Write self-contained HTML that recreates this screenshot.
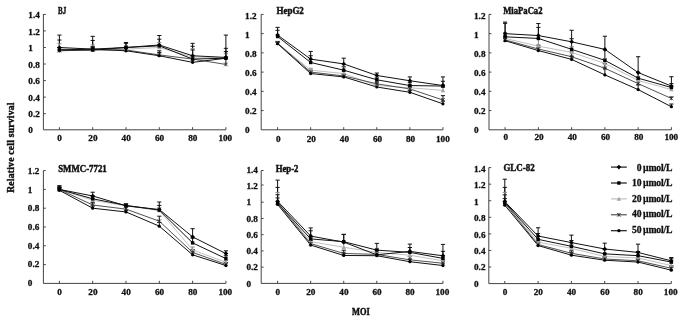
<!DOCTYPE html>
<html lang="en"><head><meta charset="utf-8"><title>Relative cell survival vs MOI</title>
<style>html,body{margin:0;padding:0;background:#fff}body{width:685px;height:321px;overflow:hidden}svg{display:block;will-change:transform}</style>
</head><body>
<svg width="685" height="321" viewBox="0 0 685 321" font-family='"Liberation Serif", serif' font-weight="bold" fill="#111" stroke="#111" stroke-width="0.3">
<rect width="685" height="321" fill="#fff" stroke="none"/>
<g><path d="M43.4 14L43.4 129.8L225.9 129.8M43.4 113.66L45.8 113.66M43.4 97.11L45.8 97.11M43.4 80.57L45.8 80.57M43.4 64.03L45.8 64.03M43.4 47.49L45.8 47.49M43.4 30.94L45.8 30.94M43.4 14.4L45.8 14.4M59.4 129.8L59.4 127.2M92.7 129.8L92.7 127.2M126 129.8L126 127.2M159.3 129.8L159.3 127.2M192.6 129.8L192.6 127.2M225.9 129.8L225.9 127.2" stroke="#444" stroke-width="1" fill="none"/><text x="28.3" y="133.3" font-size="9.2">0</text><text x="28.3" y="117.21" font-size="9.2">0.2</text><text x="28.3" y="100.73" font-size="9.2">0.4</text><text x="28.3" y="84.24" font-size="9.2">0.6</text><text x="28.3" y="67.76" font-size="9.2">0.8</text><text x="28.3" y="51.27" font-size="9.2">1</text><text x="28.3" y="34.79" font-size="9.2">1.2</text><text x="28.3" y="18.3" font-size="9.2">1.4</text><text x="59.6" y="141.4" font-size="9.2" text-anchor="middle">0</text><text x="92.9" y="141.4" font-size="9.2" text-anchor="middle">20</text><text x="126.2" y="141.4" font-size="9.2" text-anchor="middle">40</text><text x="159.5" y="141.4" font-size="9.2" text-anchor="middle">60</text><text x="192.8" y="141.4" font-size="9.2" text-anchor="middle">80</text><text x="225.3" y="141.4" font-size="9.2" text-anchor="middle">100</text><text x="58" y="14" font-size="9.6" stroke-width="0.45" textLength="8.2" lengthAdjust="spacingAndGlyphs">BJ</text><path d="M59.4 47.49L59.4 35.08M57.3 35.08L61.5 35.08M92.7 49.14L92.7 36.32M90.6 36.32L94.8 36.32M126 47.49L126 42.52M123.9 42.52L128.1 42.52M159.3 45L159.3 35.49M157.2 35.49L161.4 35.49M192.6 55.76L192.6 43.35M190.5 43.35L194.7 43.35M225.9 57.41L225.9 35.08M223.8 35.08L228 35.08" stroke="#111" stroke-width="1" fill="none"/><path d="M59.4 49.97L59.4 40.04M57.3 40.04L61.5 40.04M92.7 49.97L92.7 40.46M90.6 40.46L94.8 40.46M126 47.49L126 43.35M123.9 43.35L128.1 43.35M159.3 45.83L159.3 39.21M157.2 39.21L161.4 39.21M192.6 59.07L192.6 46.25M190.5 46.25L194.7 46.25M225.9 58.24L225.9 48.31M223.8 48.31L228 48.31" stroke="#111" stroke-width="1" fill="none"/><path d="M59.4 49.14L59.4 43.76M57.3 43.76L61.5 43.76M92.7 49.14L92.7 45M90.6 45L94.8 45M126 49.14L126 45.83M123.9 45.83L128.1 45.83M159.3 47.49L159.3 42.52M157.2 42.52L161.4 42.52M192.6 57L192.6 48.73M190.5 48.73L194.7 48.73M225.9 57.83L225.9 53.69M223.8 53.69L228 53.69" stroke="#888" stroke-width="1" fill="none"/><path d="M59.4 50.79L59.4 47.49M57.3 47.49L61.5 47.49M92.7 49.97L92.7 47.49M90.6 47.49L94.8 47.49M126 49.97L126 47.49M123.9 47.49L128.1 47.49M159.3 54.93L159.3 50.79M157.2 50.79L161.4 50.79M192.6 59.07L192.6 49.97M190.5 49.97L194.7 49.97M225.9 64.44L225.9 57M223.8 57L228 57" stroke="#111" stroke-width="1" fill="none"/><path d="M59.4 49.97L59.4 47.49M57.3 47.49L61.5 47.49M92.7 49.14L92.7 46.66M90.6 46.66L94.8 46.66M126 50.79L126 48.31M123.9 48.31L128.1 48.31M159.3 55.76L159.3 52.45M157.2 52.45L161.4 52.45M192.6 62.37L192.6 55.76M190.5 55.76L194.7 55.76M225.9 58.24L225.9 51.62M223.8 51.62L228 51.62" stroke="#111" stroke-width="1" fill="none"/><polyline points="59.4,49.14 92.7,49.14 126,49.14 159.3,47.49 192.6,57 225.9,57.83" stroke="#b0b0b0" stroke-width="0.8" fill="none" stroke-linejoin="round"/><polyline points="59.4,50.79 92.7,49.97 126,49.97 159.3,54.93 192.6,59.07 225.9,64.44" stroke="#333" stroke-width="0.85" fill="none" stroke-linejoin="round"/><polyline points="59.4,49.97 92.7,49.14 126,50.79 159.3,55.76 192.6,62.37 225.9,58.24" stroke="#111" stroke-width="1.0" fill="none" stroke-linejoin="round"/><polyline points="59.4,49.97 92.7,49.97 126,47.49 159.3,45.83 192.6,59.07 225.9,58.24" stroke="#111" stroke-width="1.0" fill="none" stroke-linejoin="round"/><polyline points="59.4,47.49 92.7,49.14 126,47.49 159.3,45 192.6,55.76 225.9,57.41" stroke="#111" stroke-width="1.0" fill="none" stroke-linejoin="round"/><path d="M59.4 46.94L61.6 50.9L57.2 50.9Z" fill="#a4a4a4" stroke="none"/><path d="M92.7 46.94L94.9 50.9L90.5 50.9Z" fill="#a4a4a4" stroke="none"/><path d="M126 46.94L128.2 50.9L123.8 50.9Z" fill="#a4a4a4" stroke="none"/><path d="M159.3 45.29L161.5 49.25L157.1 49.25Z" fill="#a4a4a4" stroke="none"/><path d="M192.6 54.8L194.8 58.76L190.4 58.76Z" fill="#a4a4a4" stroke="none"/><path d="M225.9 55.63L228.1 59.59L223.7 59.59Z" fill="#a4a4a4" stroke="none"/><path d="M57.6 48.99L61.2 52.59M57.6 52.59L61.2 48.99M59.4 48.99L59.4 52.59" stroke="#2a2a2a" stroke-width="0.8" fill="none"/><path d="M90.9 48.17L94.5 51.77M90.9 51.77L94.5 48.17M92.7 48.17L92.7 51.77" stroke="#2a2a2a" stroke-width="0.8" fill="none"/><path d="M124.2 48.17L127.8 51.77M124.2 51.77L127.8 48.17M126 48.17L126 51.77" stroke="#2a2a2a" stroke-width="0.8" fill="none"/><path d="M157.5 53.13L161.1 56.73M157.5 56.73L161.1 53.13M159.3 53.13L159.3 56.73" stroke="#2a2a2a" stroke-width="0.8" fill="none"/><path d="M190.8 57.27L194.4 60.87M190.8 60.87L194.4 57.27M192.6 57.27L192.6 60.87" stroke="#2a2a2a" stroke-width="0.8" fill="none"/><path d="M224.1 62.64L227.7 66.24M224.1 66.24L227.7 62.64M225.9 62.64L225.9 66.24" stroke="#2a2a2a" stroke-width="0.8" fill="none"/><circle cx="59.4" cy="49.97" r="1.6" fill="#000" stroke="none"/><circle cx="92.7" cy="49.14" r="1.6" fill="#000" stroke="none"/><circle cx="126" cy="50.79" r="1.6" fill="#000" stroke="none"/><circle cx="159.3" cy="55.76" r="1.6" fill="#000" stroke="none"/><circle cx="192.6" cy="62.37" r="1.6" fill="#000" stroke="none"/><circle cx="225.9" cy="58.24" r="1.6" fill="#000" stroke="none"/><rect x="57.7" y="48.27" width="3.4" height="3.4" fill="#000" stroke="none"/><rect x="91" y="48.27" width="3.4" height="3.4" fill="#000" stroke="none"/><rect x="124.3" y="45.79" width="3.4" height="3.4" fill="#000" stroke="none"/><rect x="157.6" y="44.13" width="3.4" height="3.4" fill="#000" stroke="none"/><rect x="190.9" y="57.37" width="3.4" height="3.4" fill="#000" stroke="none"/><rect x="224.2" y="56.54" width="3.4" height="3.4" fill="#000" stroke="none"/><path d="M59.4 45.19L61.7 47.49L59.4 49.79L57.1 47.49Z" fill="#000" stroke="none"/><path d="M92.7 46.84L95 49.14L92.7 51.44L90.4 49.14Z" fill="#000" stroke="none"/><path d="M126 45.19L128.3 47.49L126 49.79L123.7 47.49Z" fill="#000" stroke="none"/><path d="M159.3 42.7L161.6 45L159.3 47.3L157 45Z" fill="#000" stroke="none"/><path d="M192.6 53.46L194.9 55.76L192.6 58.06L190.3 55.76Z" fill="#000" stroke="none"/><path d="M225.9 55.11L228.2 57.41L225.9 59.71L223.6 57.41Z" fill="#000" stroke="none"/></g>
<g><path d="M261.2 14.4L261.2 129.8L442.95 129.8M261.2 110.57L263.6 110.57M261.2 91.33L263.6 91.33M261.2 72.1L263.6 72.1M261.2 52.87L263.6 52.87M261.2 33.63L263.6 33.63M261.2 14.4L263.6 14.4M277.6 129.8L277.6 127.2M310.67 129.8L310.67 127.2M343.74 129.8L343.74 127.2M376.81 129.8L376.81 127.2M409.88 129.8L409.88 127.2M442.95 129.8L442.95 127.2" stroke="#444" stroke-width="1" fill="none"/><text x="245.1" y="133.3" font-size="9.2">0</text><text x="245.1" y="114.23" font-size="9.2">0.2</text><text x="245.1" y="95.17" font-size="9.2">0.4</text><text x="245.1" y="76.1" font-size="9.2">0.6</text><text x="245.1" y="57.03" font-size="9.2">0.8</text><text x="245.1" y="37.97" font-size="9.2">1</text><text x="245.1" y="18.9" font-size="9.2">1.2</text><text x="278.3" y="141.7" font-size="9.2" text-anchor="middle">0</text><text x="311.37" y="141.7" font-size="9.2" text-anchor="middle">20</text><text x="344.44" y="141.7" font-size="9.2" text-anchor="middle">40</text><text x="377.51" y="141.7" font-size="9.2" text-anchor="middle">60</text><text x="410.58" y="141.7" font-size="9.2" text-anchor="middle">80</text><text x="442.85" y="141.7" font-size="9.2" text-anchor="middle">100</text><text x="276.5" y="14" font-size="9.6" stroke-width="0.45" textLength="27.3" lengthAdjust="spacingAndGlyphs">HepG2</text><path d="M277.6 35.08L277.6 27.38M275.5 27.38L279.7 27.38M310.67 59.12L310.67 51.42M308.57 51.42L312.77 51.42M343.74 63.93L343.74 58.16M341.64 58.16L345.84 58.16M376.81 75.47L376.81 73.06M374.71 73.06L378.91 73.06M409.88 80.76L409.88 76.91M407.78 76.91L411.98 76.91M442.95 85.56L442.95 76.91M440.85 76.91L445.05 76.91" stroke="#111" stroke-width="1" fill="none"/><path d="M277.6 36.52L277.6 30.27M275.5 30.27L279.7 30.27M310.67 62.48L310.67 55.75M308.57 55.75L312.77 55.75M343.74 70.18L343.74 66.81M341.64 66.81L345.84 66.81M376.81 79.79L376.81 77.87M374.71 77.87L378.91 77.87M409.88 85.56L409.88 82.68M407.78 82.68L411.98 82.68M442.95 86.04L442.95 81.24M440.85 81.24L445.05 81.24" stroke="#111" stroke-width="1" fill="none"/><path d="M277.6 43.25L277.6 41.33M275.5 41.33L279.7 41.33M310.67 70.18L310.67 68.25M308.57 68.25L312.77 68.25M343.74 73.54L343.74 71.62M341.64 71.62L345.84 71.62M376.81 85.56L376.81 83.64M374.71 83.64L378.91 83.64M409.88 87.78L409.88 85.85M407.78 85.85L411.98 85.85M442.95 90.37L442.95 87.49M440.85 87.49L445.05 87.49" stroke="#888" stroke-width="1" fill="none"/><path d="M277.6 43.25L277.6 41.81M275.5 41.81L279.7 41.81M310.67 72.1L310.67 70.18M308.57 70.18L312.77 70.18M343.74 75.95L343.74 74.02M341.64 74.02L345.84 74.02M376.81 83.83L376.81 81.91M374.71 81.91L378.91 81.91M409.88 88.93L409.88 87.01M407.78 87.01L411.98 87.01M442.95 99.99L442.95 95.66M440.85 95.66L445.05 95.66" stroke="#111" stroke-width="1" fill="none"/><path d="M277.6 43.73L277.6 42.29M275.5 42.29L279.7 42.29M310.67 73.54L310.67 71.62M308.57 71.62L312.77 71.62M343.74 76.91L343.74 74.98M341.64 74.98L345.84 74.98M376.81 87.01L376.81 85.08M374.71 85.08L378.91 85.08M409.88 92.3L409.88 90.37M407.78 90.37L411.98 90.37M442.95 103.84L442.95 100.95M440.85 100.95L445.05 100.95" stroke="#111" stroke-width="1" fill="none"/><polyline points="277.6,43.25 310.67,70.18 343.74,73.54 376.81,85.56 409.88,87.78 442.95,90.37" stroke="#b0b0b0" stroke-width="0.8" fill="none" stroke-linejoin="round"/><polyline points="277.6,43.25 310.67,72.1 343.74,75.95 376.81,83.83 409.88,88.93 442.95,99.99" stroke="#333" stroke-width="0.85" fill="none" stroke-linejoin="round"/><polyline points="277.6,43.73 310.67,73.54 343.74,76.91 376.81,87.01 409.88,92.3 442.95,103.84" stroke="#111" stroke-width="1.0" fill="none" stroke-linejoin="round"/><polyline points="277.6,36.52 310.67,62.48 343.74,70.18 376.81,79.79 409.88,85.56 442.95,86.04" stroke="#111" stroke-width="1.0" fill="none" stroke-linejoin="round"/><polyline points="277.6,35.08 310.67,59.12 343.74,63.93 376.81,75.47 409.88,80.76 442.95,85.56" stroke="#111" stroke-width="1.0" fill="none" stroke-linejoin="round"/><path d="M277.6 41.05L279.8 45.01L275.4 45.01Z" fill="#a4a4a4" stroke="none"/><path d="M310.67 67.98L312.87 71.94L308.47 71.94Z" fill="#a4a4a4" stroke="none"/><path d="M343.74 71.34L345.94 75.3L341.54 75.3Z" fill="#a4a4a4" stroke="none"/><path d="M376.81 83.36L379.01 87.32L374.61 87.32Z" fill="#a4a4a4" stroke="none"/><path d="M409.88 85.58L412.08 89.54L407.68 89.54Z" fill="#a4a4a4" stroke="none"/><path d="M442.95 88.17L445.15 92.13L440.75 92.13Z" fill="#a4a4a4" stroke="none"/><path d="M275.8 41.45L279.4 45.05M275.8 45.05L279.4 41.45M277.6 41.45L277.6 45.05" stroke="#2a2a2a" stroke-width="0.8" fill="none"/><path d="M308.87 70.3L312.47 73.9M308.87 73.9L312.47 70.3M310.67 70.3L310.67 73.9" stroke="#2a2a2a" stroke-width="0.8" fill="none"/><path d="M341.94 74.15L345.54 77.75M341.94 77.75L345.54 74.15M343.74 74.15L343.74 77.75" stroke="#2a2a2a" stroke-width="0.8" fill="none"/><path d="M375.01 82.03L378.61 85.63M375.01 85.63L378.61 82.03M376.81 82.03L376.81 85.63" stroke="#2a2a2a" stroke-width="0.8" fill="none"/><path d="M408.08 87.13L411.68 90.73M408.08 90.73L411.68 87.13M409.88 87.13L409.88 90.73" stroke="#2a2a2a" stroke-width="0.8" fill="none"/><path d="M441.15 98.19L444.75 101.79M441.15 101.79L444.75 98.19M442.95 98.19L442.95 101.79" stroke="#2a2a2a" stroke-width="0.8" fill="none"/><circle cx="277.6" cy="43.73" r="1.6" fill="#000" stroke="none"/><circle cx="310.67" cy="73.54" r="1.6" fill="#000" stroke="none"/><circle cx="343.74" cy="76.91" r="1.6" fill="#000" stroke="none"/><circle cx="376.81" cy="87.01" r="1.6" fill="#000" stroke="none"/><circle cx="409.88" cy="92.3" r="1.6" fill="#000" stroke="none"/><circle cx="442.95" cy="103.84" r="1.6" fill="#000" stroke="none"/><rect x="275.9" y="34.82" width="3.4" height="3.4" fill="#000" stroke="none"/><rect x="308.97" y="60.78" width="3.4" height="3.4" fill="#000" stroke="none"/><rect x="342.04" y="68.48" width="3.4" height="3.4" fill="#000" stroke="none"/><rect x="375.11" y="78.09" width="3.4" height="3.4" fill="#000" stroke="none"/><rect x="408.18" y="83.86" width="3.4" height="3.4" fill="#000" stroke="none"/><rect x="441.25" y="84.34" width="3.4" height="3.4" fill="#000" stroke="none"/><path d="M277.6 32.78L279.9 35.08L277.6 37.38L275.3 35.08Z" fill="#000" stroke="none"/><path d="M310.67 56.82L312.97 59.12L310.67 61.42L308.37 59.12Z" fill="#000" stroke="none"/><path d="M343.74 61.63L346.04 63.93L343.74 66.23L341.44 63.93Z" fill="#000" stroke="none"/><path d="M376.81 73.17L379.11 75.47L376.81 77.77L374.51 75.47Z" fill="#000" stroke="none"/><path d="M409.88 78.46L412.18 80.76L409.88 83.06L407.58 80.76Z" fill="#000" stroke="none"/><path d="M442.95 83.26L445.25 85.56L442.95 87.86L440.65 85.56Z" fill="#000" stroke="none"/></g>
<g><path d="M489 14.4L489 129.8L671.4 129.8M489 110.57L491.4 110.57M489 91.33L491.4 91.33M489 72.1L491.4 72.1M489 52.87L491.4 52.87M489 33.63L491.4 33.63M489 14.4L491.4 14.4M505.1 129.8L505.1 127.2M538.36 129.8L538.36 127.2M571.62 129.8L571.62 127.2M604.88 129.8L604.88 127.2M638.14 129.8L638.14 127.2M671.4 129.8L671.4 127.2" stroke="#444" stroke-width="1" fill="none"/><text x="474" y="132.9" font-size="9.2">0</text><text x="474" y="113.83" font-size="9.2">0.2</text><text x="474" y="94.77" font-size="9.2">0.4</text><text x="474" y="75.7" font-size="9.2">0.6</text><text x="474" y="56.63" font-size="9.2">0.8</text><text x="474" y="37.57" font-size="9.2">1</text><text x="474" y="18.5" font-size="9.2">1.2</text><text x="505.8" y="139.8" font-size="9.2" text-anchor="middle">0</text><text x="539.06" y="139.8" font-size="9.2" text-anchor="middle">20</text><text x="572.32" y="139.8" font-size="9.2" text-anchor="middle">40</text><text x="605.58" y="139.8" font-size="9.2" text-anchor="middle">60</text><text x="638.84" y="139.8" font-size="9.2" text-anchor="middle">80</text><text x="671.3" y="139.8" font-size="9.2" text-anchor="middle">100</text><text x="503.2" y="14" font-size="9.6" stroke-width="0.45" textLength="39.3" lengthAdjust="spacingAndGlyphs">MiaPaCa2</text><path d="M505.1 33.63L505.1 22.09M503 22.09L507.2 22.09M538.36 35.56L538.36 23.54M536.26 23.54L540.46 23.54M571.62 41.81L571.62 30.27M569.52 30.27L573.72 30.27M604.88 49.4L604.88 36.23M602.78 36.23L606.98 36.23M638.14 72.58L638.14 56.71M636.04 56.71L640.24 56.71M671.4 86.04L671.4 76.72M669.3 76.72L673.5 76.72" stroke="#111" stroke-width="1" fill="none"/><path d="M505.1 36.81L505.1 23.34M503 23.34L507.2 23.34M538.36 38.44L538.36 27.38M536.26 27.38L540.46 27.38M571.62 49.31L571.62 38.73M569.52 38.73L573.72 38.73M604.88 60.37L604.88 49.79M602.78 49.79L606.98 49.79M638.14 78.16L638.14 72.39M636.04 72.39L640.24 72.39M671.4 87.49L671.4 83.64M669.3 83.64L673.5 83.64" stroke="#111" stroke-width="1" fill="none"/><path d="M505.1 38.44L505.1 32.67M503 32.67L507.2 32.67M538.36 46.14L538.36 38.44M536.26 38.44L540.46 38.44M571.62 52.39L571.62 46.62M569.52 46.62L573.72 46.62M604.88 63.45L604.88 58.64M602.78 58.64L606.98 58.64M638.14 80.47L638.14 76.62M636.04 76.62L640.24 76.62M671.4 89.6L671.4 86.72M669.3 86.72L673.5 86.72" stroke="#888" stroke-width="1" fill="none"/><path d="M505.1 39.88L505.1 36.04M503 36.04L507.2 36.04M538.36 49.02L538.36 45.17M536.26 45.17L540.46 45.17M571.62 56.71L571.62 51.91M569.52 51.91L573.72 51.91M604.88 68.25L604.88 63.45M602.78 63.45L606.98 63.45M638.14 83.64L638.14 79.79M636.04 79.79L640.24 79.79M671.4 98.45L671.4 97.01M669.3 97.01L673.5 97.01" stroke="#111" stroke-width="1" fill="none"/><path d="M505.1 40.75L505.1 37.86M503 37.86L507.2 37.86M538.36 50.56L538.36 47.67M536.26 47.67L540.46 47.67M571.62 59.41L571.62 56.52M569.52 56.52L573.72 56.52M604.88 74.89L604.88 68.16M602.78 68.16L606.98 68.16M638.14 89.6L638.14 84.79M636.04 84.79L640.24 84.79M671.4 106.72L671.4 104.03M669.3 104.03L673.5 104.03" stroke="#111" stroke-width="1" fill="none"/><polyline points="505.1,38.44 538.36,46.14 571.62,52.39 604.88,63.45 638.14,80.47 671.4,89.6" stroke="#b0b0b0" stroke-width="0.8" fill="none" stroke-linejoin="round"/><polyline points="505.1,39.88 538.36,49.02 571.62,56.71 604.88,68.25 638.14,83.64 671.4,98.45" stroke="#333" stroke-width="0.85" fill="none" stroke-linejoin="round"/><polyline points="505.1,40.75 538.36,50.56 571.62,59.41 604.88,74.89 638.14,89.6 671.4,106.72" stroke="#111" stroke-width="1.0" fill="none" stroke-linejoin="round"/><polyline points="505.1,36.81 538.36,38.44 571.62,49.31 604.88,60.37 638.14,78.16 671.4,87.49" stroke="#111" stroke-width="1.0" fill="none" stroke-linejoin="round"/><polyline points="505.1,33.63 538.36,35.56 571.62,41.81 604.88,49.4 638.14,72.58 671.4,86.04" stroke="#111" stroke-width="1.0" fill="none" stroke-linejoin="round"/><path d="M505.1 36.24L507.3 40.2L502.9 40.2Z" fill="#a4a4a4" stroke="none"/><path d="M538.36 43.94L540.56 47.9L536.16 47.9Z" fill="#a4a4a4" stroke="none"/><path d="M571.62 50.19L573.82 54.15L569.42 54.15Z" fill="#a4a4a4" stroke="none"/><path d="M604.88 61.25L607.08 65.21L602.68 65.21Z" fill="#a4a4a4" stroke="none"/><path d="M638.14 78.27L640.34 82.23L635.94 82.23Z" fill="#a4a4a4" stroke="none"/><path d="M671.4 87.4L673.6 91.36L669.2 91.36Z" fill="#a4a4a4" stroke="none"/><path d="M503.3 38.08L506.9 41.68M503.3 41.68L506.9 38.08M505.1 38.08L505.1 41.68" stroke="#2a2a2a" stroke-width="0.8" fill="none"/><path d="M536.56 47.22L540.16 50.82M536.56 50.82L540.16 47.22M538.36 47.22L538.36 50.82" stroke="#2a2a2a" stroke-width="0.8" fill="none"/><path d="M569.82 54.91L573.42 58.51M569.82 58.51L573.42 54.91M571.62 54.91L571.62 58.51" stroke="#2a2a2a" stroke-width="0.8" fill="none"/><path d="M603.08 66.45L606.68 70.05M603.08 70.05L606.68 66.45M604.88 66.45L604.88 70.05" stroke="#2a2a2a" stroke-width="0.8" fill="none"/><path d="M636.34 81.84L639.94 85.44M636.34 85.44L639.94 81.84M638.14 81.84L638.14 85.44" stroke="#2a2a2a" stroke-width="0.8" fill="none"/><path d="M669.6 96.65L673.2 100.25M669.6 100.25L673.2 96.65M671.4 96.65L671.4 100.25" stroke="#2a2a2a" stroke-width="0.8" fill="none"/><circle cx="505.1" cy="40.75" r="1.6" fill="#000" stroke="none"/><circle cx="538.36" cy="50.56" r="1.6" fill="#000" stroke="none"/><circle cx="571.62" cy="59.41" r="1.6" fill="#000" stroke="none"/><circle cx="604.88" cy="74.89" r="1.6" fill="#000" stroke="none"/><circle cx="638.14" cy="89.6" r="1.6" fill="#000" stroke="none"/><circle cx="671.4" cy="106.72" r="1.6" fill="#000" stroke="none"/><rect x="503.4" y="35.11" width="3.4" height="3.4" fill="#000" stroke="none"/><rect x="536.66" y="36.74" width="3.4" height="3.4" fill="#000" stroke="none"/><rect x="569.92" y="47.61" width="3.4" height="3.4" fill="#000" stroke="none"/><rect x="603.18" y="58.67" width="3.4" height="3.4" fill="#000" stroke="none"/><rect x="636.44" y="76.46" width="3.4" height="3.4" fill="#000" stroke="none"/><rect x="669.7" y="85.79" width="3.4" height="3.4" fill="#000" stroke="none"/><path d="M505.1 31.33L507.4 33.63L505.1 35.93L502.8 33.63Z" fill="#000" stroke="none"/><path d="M538.36 33.26L540.66 35.56L538.36 37.86L536.06 35.56Z" fill="#000" stroke="none"/><path d="M571.62 39.51L573.92 41.81L571.62 44.11L569.32 41.81Z" fill="#000" stroke="none"/><path d="M604.88 47.1L607.18 49.4L604.88 51.7L602.58 49.4Z" fill="#000" stroke="none"/><path d="M638.14 70.28L640.44 72.58L638.14 74.88L635.84 72.58Z" fill="#000" stroke="none"/><path d="M671.4 83.74L673.7 86.04L671.4 88.34L669.1 86.04Z" fill="#000" stroke="none"/></g>
<g><path d="M43.4 170.6L43.4 283.4L225.9 283.4M43.4 264.6L45.8 264.6M43.4 245.8L45.8 245.8M43.4 227L45.8 227M43.4 208.2L45.8 208.2M43.4 189.4L45.8 189.4M43.4 170.6L45.8 170.6M59.4 283.4L59.4 280.8M92.7 283.4L92.7 280.8M126 283.4L126 280.8M159.3 283.4L159.3 280.8M192.6 283.4L192.6 280.8M225.9 283.4L225.9 280.8" stroke="#444" stroke-width="1" fill="none"/><text x="27.8" y="285.8" font-size="9.2">0</text><text x="27.8" y="267.17" font-size="9.2">0.2</text><text x="27.8" y="248.53" font-size="9.2">0.4</text><text x="27.8" y="229.9" font-size="9.2">0.6</text><text x="27.8" y="211.27" font-size="9.2">0.8</text><text x="27.8" y="192.63" font-size="9.2">1</text><text x="27.8" y="174" font-size="9.2">1.2</text><text x="59.6" y="294.5" font-size="9.2" text-anchor="middle">0</text><text x="92.9" y="294.5" font-size="9.2" text-anchor="middle">20</text><text x="126.2" y="294.5" font-size="9.2" text-anchor="middle">40</text><text x="159.5" y="294.5" font-size="9.2" text-anchor="middle">60</text><text x="192.8" y="294.5" font-size="9.2" text-anchor="middle">80</text><text x="225.3" y="294.5" font-size="9.2" text-anchor="middle">100</text><text x="58.2" y="172.3" font-size="9.6" stroke-width="0.45" textLength="48.6" lengthAdjust="spacingAndGlyphs">SMMC-7721</text><path d="M59.4 189.4L59.4 185.64M57.3 185.64L61.5 185.64M92.7 195.98L92.7 192.22M90.6 192.22L94.8 192.22M126 205.85L126 203.97M123.9 203.97L128.1 203.97M159.3 209.52L159.3 202M157.2 202L161.4 202M192.6 236.87L192.6 228.69M190.5 228.69L194.7 228.69M225.9 253.6L225.9 250.78M223.8 250.78L228 250.78" stroke="#111" stroke-width="1" fill="none"/><path d="M59.4 189.4L59.4 186.58M57.3 186.58L61.5 186.58M92.7 198.8L92.7 195.98M90.6 195.98L94.8 195.98M126 205.38L126 203.5M123.9 203.5L128.1 203.5M159.3 210.08L159.3 205.38M157.2 205.38L161.4 205.38M192.6 242.89L192.6 238.19M190.5 238.19L194.7 238.19M225.9 258.58L225.9 255.76M223.8 255.76L228 255.76" stroke="#111" stroke-width="1" fill="none"/><path d="M59.4 189.4L59.4 187.52M57.3 187.52L61.5 187.52M92.7 200.21L92.7 198.33M90.6 198.33L94.8 198.33M126 205.85L126 203.97M123.9 203.97L128.1 203.97M159.3 210.55L159.3 207.73M157.2 207.73L161.4 207.73M192.6 249.84L192.6 247.02M190.5 247.02L194.7 247.02M225.9 262.34L225.9 260.46M223.8 260.46L228 260.46" stroke="#888" stroke-width="1" fill="none"/><path d="M59.4 189.4L59.4 187.52M57.3 187.52L61.5 187.52M92.7 205L92.7 202.65M90.6 202.65L94.8 202.65M126 209.14L126 207.26M123.9 207.26L128.1 207.26M159.3 221.17L159.3 216.19M157.2 216.19L161.4 216.19M192.6 252.38L192.6 249.56M190.5 249.56L194.7 249.56M225.9 264.32L225.9 262.44M223.8 262.44L228 262.44" stroke="#111" stroke-width="1" fill="none"/><path d="M59.4 190.34L59.4 188.46M57.3 188.46L61.5 188.46M92.7 208.2L92.7 205.85M90.6 205.85L94.8 205.85M126 211.96L126 210.08M123.9 210.08L128.1 210.08M159.3 226.15L159.3 222.39M157.2 222.39L161.4 222.39M192.6 254.82L192.6 252M190.5 252L194.7 252M225.9 265.54L225.9 263.66M223.8 263.66L228 263.66" stroke="#111" stroke-width="1" fill="none"/><polyline points="59.4,189.4 92.7,200.21 126,205.85 159.3,210.55 192.6,249.84 225.9,262.34" stroke="#b0b0b0" stroke-width="0.8" fill="none" stroke-linejoin="round"/><polyline points="59.4,189.4 92.7,205 126,209.14 159.3,221.17 192.6,252.38 225.9,264.32" stroke="#333" stroke-width="0.85" fill="none" stroke-linejoin="round"/><polyline points="59.4,190.34 92.7,208.2 126,211.96 159.3,226.15 192.6,254.82 225.9,265.54" stroke="#111" stroke-width="1.0" fill="none" stroke-linejoin="round"/><polyline points="59.4,189.4 92.7,198.8 126,205.38 159.3,210.08 192.6,242.89 225.9,258.58" stroke="#111" stroke-width="1.0" fill="none" stroke-linejoin="round"/><polyline points="59.4,189.4 92.7,195.98 126,205.85 159.3,209.52 192.6,236.87 225.9,253.6" stroke="#111" stroke-width="1.0" fill="none" stroke-linejoin="round"/><path d="M59.4 187.2L61.6 191.16L57.2 191.16Z" fill="#a4a4a4" stroke="none"/><path d="M92.7 198.01L94.9 201.97L90.5 201.97Z" fill="#a4a4a4" stroke="none"/><path d="M126 203.65L128.2 207.61L123.8 207.61Z" fill="#a4a4a4" stroke="none"/><path d="M159.3 208.35L161.5 212.31L157.1 212.31Z" fill="#a4a4a4" stroke="none"/><path d="M192.6 247.64L194.8 251.6L190.4 251.6Z" fill="#a4a4a4" stroke="none"/><path d="M225.9 260.14L228.1 264.1L223.7 264.1Z" fill="#a4a4a4" stroke="none"/><path d="M57.6 187.6L61.2 191.2M57.6 191.2L61.2 187.6M59.4 187.6L59.4 191.2" stroke="#2a2a2a" stroke-width="0.8" fill="none"/><path d="M90.9 203.2L94.5 206.8M90.9 206.8L94.5 203.2M92.7 203.2L92.7 206.8" stroke="#2a2a2a" stroke-width="0.8" fill="none"/><path d="M124.2 207.34L127.8 210.94M124.2 210.94L127.8 207.34M126 207.34L126 210.94" stroke="#2a2a2a" stroke-width="0.8" fill="none"/><path d="M157.5 219.37L161.1 222.97M157.5 222.97L161.1 219.37M159.3 219.37L159.3 222.97" stroke="#2a2a2a" stroke-width="0.8" fill="none"/><path d="M190.8 250.58L194.4 254.18M190.8 254.18L194.4 250.58M192.6 250.58L192.6 254.18" stroke="#2a2a2a" stroke-width="0.8" fill="none"/><path d="M224.1 262.52L227.7 266.12M224.1 266.12L227.7 262.52M225.9 262.52L225.9 266.12" stroke="#2a2a2a" stroke-width="0.8" fill="none"/><circle cx="59.4" cy="190.34" r="1.6" fill="#000" stroke="none"/><circle cx="92.7" cy="208.2" r="1.6" fill="#000" stroke="none"/><circle cx="126" cy="211.96" r="1.6" fill="#000" stroke="none"/><circle cx="159.3" cy="226.15" r="1.6" fill="#000" stroke="none"/><circle cx="192.6" cy="254.82" r="1.6" fill="#000" stroke="none"/><circle cx="225.9" cy="265.54" r="1.6" fill="#000" stroke="none"/><rect x="57.7" y="187.7" width="3.4" height="3.4" fill="#000" stroke="none"/><rect x="91" y="197.1" width="3.4" height="3.4" fill="#000" stroke="none"/><rect x="124.3" y="203.68" width="3.4" height="3.4" fill="#000" stroke="none"/><rect x="157.6" y="208.38" width="3.4" height="3.4" fill="#000" stroke="none"/><rect x="190.9" y="241.19" width="3.4" height="3.4" fill="#000" stroke="none"/><rect x="224.2" y="256.88" width="3.4" height="3.4" fill="#000" stroke="none"/><path d="M59.4 187.1L61.7 189.4L59.4 191.7L57.1 189.4Z" fill="#000" stroke="none"/><path d="M92.7 193.68L95 195.98L92.7 198.28L90.4 195.98Z" fill="#000" stroke="none"/><path d="M126 203.55L128.3 205.85L126 208.15L123.7 205.85Z" fill="#000" stroke="none"/><path d="M159.3 207.22L161.6 209.52L159.3 211.82L157 209.52Z" fill="#000" stroke="none"/><path d="M192.6 234.57L194.9 236.87L192.6 239.17L190.3 236.87Z" fill="#000" stroke="none"/><path d="M225.9 251.3L228.2 253.6L225.9 255.9L223.6 253.6Z" fill="#000" stroke="none"/></g>
<g><path d="M261.2 170.5L261.2 283.4L442.95 283.4M261.2 267.16L263.6 267.16M261.2 250.92L263.6 250.92M261.2 234.68L263.6 234.68M261.2 218.44L263.6 218.44M261.2 202.2L263.6 202.2M261.2 185L263.6 185M261.2 170.5L263.6 170.5M277.6 283.4L277.6 280.8M310.67 283.4L310.67 280.8M343.74 283.4L343.74 280.8M376.81 283.4L376.81 280.8M409.88 283.4L409.88 280.8M442.95 283.4L442.95 280.8" stroke="#444" stroke-width="1" fill="none"/><text x="246.4" y="286.7" font-size="9.2">0</text><text x="246.4" y="270.45" font-size="9.2">0.2</text><text x="246.4" y="254.19" font-size="9.2">0.4</text><text x="246.4" y="237.94" font-size="9.2">0.6</text><text x="246.4" y="221.68" font-size="9.2">0.8</text><text x="246.4" y="205.43" font-size="9.2">1</text><text x="246.4" y="189.17" font-size="9.2">1.2</text><text x="246.4" y="172.92" font-size="9.2">1.4</text><text x="277.8" y="294.5" font-size="9.2" text-anchor="middle">0</text><text x="310.87" y="294.5" font-size="9.2" text-anchor="middle">20</text><text x="343.94" y="294.5" font-size="9.2" text-anchor="middle">40</text><text x="377.01" y="294.5" font-size="9.2" text-anchor="middle">60</text><text x="410.08" y="294.5" font-size="9.2" text-anchor="middle">80</text><text x="442.35" y="294.5" font-size="9.2" text-anchor="middle">100</text><text x="275.7" y="172" font-size="9.6" stroke-width="0.45" textLength="22.8" lengthAdjust="spacingAndGlyphs">Hep-2</text><path d="M277.6 201.23L277.6 180.11M275.5 180.11L279.7 180.11M310.67 236.06L310.67 227.94M308.57 227.94L312.77 227.94M343.74 242.15L343.74 234.44M341.64 234.44L345.84 234.44M376.81 254.82L376.81 249.95M374.71 249.95L378.91 249.95M409.88 251.41L409.88 244.1M407.78 244.1L411.98 244.1M442.95 255.79L442.95 244.42M440.85 244.42L445.05 244.42" stroke="#111" stroke-width="1" fill="none"/><path d="M277.6 202.85L277.6 187.42M275.5 187.42L279.7 187.42M310.67 238.9L310.67 230.78M308.57 230.78L312.77 230.78M343.74 241.66L343.74 234.36M341.64 234.36L345.84 234.36M376.81 250.11L376.81 243.37M374.71 243.37L378.91 243.37M409.88 252.38L409.88 247.51M407.78 247.51L411.98 247.51M442.95 258.39L442.95 251.33M440.85 251.33L445.05 251.33" stroke="#111" stroke-width="1" fill="none"/><path d="M277.6 202.85L277.6 192.62M275.5 192.62L279.7 192.62M310.67 241.66L310.67 237.6M308.57 237.6L312.77 237.6M343.74 247.27L343.74 242.39M341.64 242.39L345.84 242.39M376.81 252.38L376.81 248.32M374.71 248.32L378.91 248.32M409.88 255.22L409.88 251.16M407.78 251.16L411.98 251.16M442.95 260.83L442.95 256.77M440.85 256.77L445.05 256.77" stroke="#888" stroke-width="1" fill="none"/><path d="M277.6 202.85L277.6 194.73M275.5 194.73L279.7 194.73M310.67 243.61L310.67 240.36M308.57 240.36L312.77 240.36M343.74 253.44L343.74 250.19M341.64 250.19L345.84 250.19M376.81 254.41L376.81 250.35M374.71 250.35L378.91 250.35M409.88 259.85L409.88 256.6M407.78 256.6L411.98 256.6M442.95 263.26L442.95 260.01M440.85 260.01L445.05 260.01" stroke="#111" stroke-width="1" fill="none"/><path d="M277.6 204.47L277.6 197.98M275.5 197.98L279.7 197.98M310.67 245.07L310.67 242.64M308.57 242.64L312.77 242.64M343.74 255.47L343.74 253.03M341.64 253.03L345.84 253.03M376.81 255.71L376.81 252.46M374.71 252.46L378.91 252.46M409.88 261.72L409.88 259.28M407.78 259.28L411.98 259.28M442.95 265.54L442.95 263.1M440.85 263.1L445.05 263.1" stroke="#111" stroke-width="1" fill="none"/><polyline points="277.6,202.85 310.67,241.66 343.74,247.27 376.81,252.38 409.88,255.22 442.95,260.83" stroke="#b0b0b0" stroke-width="0.8" fill="none" stroke-linejoin="round"/><polyline points="277.6,202.85 310.67,243.61 343.74,253.44 376.81,254.41 409.88,259.85 442.95,263.26" stroke="#333" stroke-width="0.85" fill="none" stroke-linejoin="round"/><polyline points="277.6,204.47 310.67,245.07 343.74,255.47 376.81,255.71 409.88,261.72 442.95,265.54" stroke="#111" stroke-width="1.0" fill="none" stroke-linejoin="round"/><polyline points="277.6,202.85 310.67,238.9 343.74,241.66 376.81,250.11 409.88,252.38 442.95,258.39" stroke="#111" stroke-width="1.0" fill="none" stroke-linejoin="round"/><polyline points="277.6,201.23 310.67,236.06 343.74,242.15 376.81,254.82 409.88,251.41 442.95,255.79" stroke="#111" stroke-width="1.0" fill="none" stroke-linejoin="round"/><path d="M277.6 200.65L279.8 204.61L275.4 204.61Z" fill="#a4a4a4" stroke="none"/><path d="M310.67 239.46L312.87 243.42L308.47 243.42Z" fill="#a4a4a4" stroke="none"/><path d="M343.74 245.07L345.94 249.03L341.54 249.03Z" fill="#a4a4a4" stroke="none"/><path d="M376.81 250.18L379.01 254.14L374.61 254.14Z" fill="#a4a4a4" stroke="none"/><path d="M409.88 253.02L412.08 256.98L407.68 256.98Z" fill="#a4a4a4" stroke="none"/><path d="M442.95 258.63L445.15 262.59L440.75 262.59Z" fill="#a4a4a4" stroke="none"/><path d="M275.8 201.05L279.4 204.65M275.8 204.65L279.4 201.05M277.6 201.05L277.6 204.65" stroke="#2a2a2a" stroke-width="0.8" fill="none"/><path d="M308.87 241.81L312.47 245.41M308.87 245.41L312.47 241.81M310.67 241.81L310.67 245.41" stroke="#2a2a2a" stroke-width="0.8" fill="none"/><path d="M341.94 251.64L345.54 255.24M341.94 255.24L345.54 251.64M343.74 251.64L343.74 255.24" stroke="#2a2a2a" stroke-width="0.8" fill="none"/><path d="M375.01 252.61L378.61 256.21M375.01 256.21L378.61 252.61M376.81 252.61L376.81 256.21" stroke="#2a2a2a" stroke-width="0.8" fill="none"/><path d="M408.08 258.05L411.68 261.65M408.08 261.65L411.68 258.05M409.88 258.05L409.88 261.65" stroke="#2a2a2a" stroke-width="0.8" fill="none"/><path d="M441.15 261.46L444.75 265.06M441.15 265.06L444.75 261.46M442.95 261.46L442.95 265.06" stroke="#2a2a2a" stroke-width="0.8" fill="none"/><circle cx="277.6" cy="204.47" r="1.6" fill="#000" stroke="none"/><circle cx="310.67" cy="245.07" r="1.6" fill="#000" stroke="none"/><circle cx="343.74" cy="255.47" r="1.6" fill="#000" stroke="none"/><circle cx="376.81" cy="255.71" r="1.6" fill="#000" stroke="none"/><circle cx="409.88" cy="261.72" r="1.6" fill="#000" stroke="none"/><circle cx="442.95" cy="265.54" r="1.6" fill="#000" stroke="none"/><rect x="275.9" y="201.15" width="3.4" height="3.4" fill="#000" stroke="none"/><rect x="308.97" y="237.2" width="3.4" height="3.4" fill="#000" stroke="none"/><rect x="342.04" y="239.96" width="3.4" height="3.4" fill="#000" stroke="none"/><rect x="375.11" y="248.41" width="3.4" height="3.4" fill="#000" stroke="none"/><rect x="408.18" y="250.68" width="3.4" height="3.4" fill="#000" stroke="none"/><rect x="441.25" y="256.69" width="3.4" height="3.4" fill="#000" stroke="none"/><path d="M277.6 198.93L279.9 201.23L277.6 203.53L275.3 201.23Z" fill="#000" stroke="none"/><path d="M310.67 233.76L312.97 236.06L310.67 238.36L308.37 236.06Z" fill="#000" stroke="none"/><path d="M343.74 239.85L346.04 242.15L343.74 244.45L341.44 242.15Z" fill="#000" stroke="none"/><path d="M376.81 252.52L379.11 254.82L376.81 257.12L374.51 254.82Z" fill="#000" stroke="none"/><path d="M409.88 249.11L412.18 251.41L409.88 253.71L407.58 251.41Z" fill="#000" stroke="none"/><path d="M442.95 253.49L445.25 255.79L442.95 258.09L440.65 255.79Z" fill="#000" stroke="none"/></g>
<g><path d="M488.8 167.6L488.8 283.6L671.3 283.6M488.8 267.03L491.2 267.03M488.8 250.46L491.2 250.46M488.8 233.89L491.2 233.89M488.8 217.31L491.2 217.31M488.8 200.74L491.2 200.74M488.8 184.17L491.2 184.17M488.8 167.6L491.2 167.6M504.8 283.6L504.8 281M538.1 283.6L538.1 281M571.4 283.6L571.4 281M604.7 283.6L604.7 281M638 283.6L638 281M671.3 283.6L671.3 281" stroke="#444" stroke-width="1" fill="none"/><text x="474" y="286.8" font-size="9.2">0</text><text x="474" y="270.37" font-size="9.2">0.2</text><text x="474" y="253.94" font-size="9.2">0.4</text><text x="474" y="237.51" font-size="9.2">0.6</text><text x="474" y="221.09" font-size="9.2">0.8</text><text x="474" y="204.66" font-size="9.2">1</text><text x="474" y="188.23" font-size="9.2">1.2</text><text x="474" y="171.8" font-size="9.2">1.4</text><text x="505" y="294.5" font-size="9.2" text-anchor="middle">0</text><text x="538.3" y="294.5" font-size="9.2" text-anchor="middle">20</text><text x="571.6" y="294.5" font-size="9.2" text-anchor="middle">40</text><text x="604.9" y="294.5" font-size="9.2" text-anchor="middle">60</text><text x="638.2" y="294.5" font-size="9.2" text-anchor="middle">80</text><text x="670.7" y="294.5" font-size="9.2" text-anchor="middle">100</text><text x="503.4" y="170.7" font-size="9.6" stroke-width="0.45" textLength="31.2" lengthAdjust="spacingAndGlyphs">GLC-82</text><path d="M504.8 201.57L504.8 179.2M502.7 179.2L506.9 179.2M538.1 236.04L538.1 227.75M536 227.75L540.2 227.75M571.4 242.59L571.4 235.13M569.3 235.13L573.5 235.13M604.7 248.97L604.7 243.17M602.6 243.17L606.8 243.17M638 252.45L638 244.16M635.9 244.16L640.1 244.16M671.3 260.81L671.3 257.5M669.2 257.5L673.4 257.5" stroke="#111" stroke-width="1" fill="none"/><path d="M504.8 202.32L504.8 187.4M502.7 187.4L506.9 187.4M538.1 239.35L538.1 233.55M536 233.55L540.2 233.55M571.4 246.31L571.4 240.51M569.3 240.51L573.5 240.51M604.7 253.85L604.7 249.71M602.6 249.71L606.8 249.71M638 255.68L638 251.53M635.9 251.53L640.1 251.53M671.3 262.06L671.3 258.74M669.2 258.74L673.4 258.74" stroke="#111" stroke-width="1" fill="none"/><path d="M504.8 202.32L504.8 192.37M502.7 192.37L506.9 192.37M538.1 242.17L538.1 238.86M536 238.86L540.2 238.86M571.4 248.3L571.4 244.99M569.3 244.99L573.5 244.99M604.7 256.51L604.7 254.02M602.6 254.02L606.8 254.02M638 258L638 255.51M635.9 255.51L640.1 255.51M671.3 265.54L671.3 263.05M669.2 263.05L673.4 263.05" stroke="#888" stroke-width="1" fill="none"/><path d="M504.8 203.15L504.8 194.86M502.7 194.86L506.9 194.86M538.1 244.49L538.1 242.01M536 242.01L540.2 242.01M571.4 253.27L571.4 250.79M569.3 250.79L573.5 250.79M604.7 258.99L604.7 256.51M602.6 256.51L606.8 256.51M638 260.81L638 258.33M635.9 258.33L640.1 258.33M671.3 268.27L671.3 265.79M669.2 265.79L673.4 265.79" stroke="#111" stroke-width="1" fill="none"/><path d="M504.8 205.22L504.8 198.59M502.7 198.59L506.9 198.59M538.1 245.57L538.1 243.08M536 243.08L540.2 243.08M571.4 255.18L571.4 252.69M569.3 252.69L573.5 252.69M604.7 260.23L604.7 257.75M602.6 257.75L606.8 257.75M638 262.06L638 259.57M635.9 259.57L640.1 259.57M671.3 270.18L671.3 267.69M669.2 267.69L673.4 267.69" stroke="#111" stroke-width="1" fill="none"/><polyline points="504.8,202.32 538.1,242.17 571.4,248.3 604.7,256.51 638,258 671.3,265.54" stroke="#b0b0b0" stroke-width="0.8" fill="none" stroke-linejoin="round"/><polyline points="504.8,203.15 538.1,244.49 571.4,253.27 604.7,258.99 638,260.81 671.3,268.27" stroke="#333" stroke-width="0.85" fill="none" stroke-linejoin="round"/><polyline points="504.8,205.22 538.1,245.57 571.4,255.18 604.7,260.23 638,262.06 671.3,270.18" stroke="#111" stroke-width="1.0" fill="none" stroke-linejoin="round"/><polyline points="504.8,202.32 538.1,239.35 571.4,246.31 604.7,253.85 638,255.68 671.3,262.06" stroke="#111" stroke-width="1.0" fill="none" stroke-linejoin="round"/><polyline points="504.8,201.57 538.1,236.04 571.4,242.59 604.7,248.97 638,252.45 671.3,260.81" stroke="#111" stroke-width="1.0" fill="none" stroke-linejoin="round"/><path d="M504.8 200.12L507 204.08L502.6 204.08Z" fill="#a4a4a4" stroke="none"/><path d="M538.1 239.97L540.3 243.93L535.9 243.93Z" fill="#a4a4a4" stroke="none"/><path d="M571.4 246.1L573.6 250.06L569.2 250.06Z" fill="#a4a4a4" stroke="none"/><path d="M604.7 254.31L606.9 258.27L602.5 258.27Z" fill="#a4a4a4" stroke="none"/><path d="M638 255.8L640.2 259.76L635.8 259.76Z" fill="#a4a4a4" stroke="none"/><path d="M671.3 263.34L673.5 267.3L669.1 267.3Z" fill="#a4a4a4" stroke="none"/><path d="M503 201.35L506.6 204.95M503 204.95L506.6 201.35M504.8 201.35L504.8 204.95" stroke="#2a2a2a" stroke-width="0.8" fill="none"/><path d="M536.3 242.69L539.9 246.29M536.3 246.29L539.9 242.69M538.1 242.69L538.1 246.29" stroke="#2a2a2a" stroke-width="0.8" fill="none"/><path d="M569.6 251.47L573.2 255.07M569.6 255.07L573.2 251.47M571.4 251.47L571.4 255.07" stroke="#2a2a2a" stroke-width="0.8" fill="none"/><path d="M602.9 257.19L606.5 260.79M602.9 260.79L606.5 257.19M604.7 257.19L604.7 260.79" stroke="#2a2a2a" stroke-width="0.8" fill="none"/><path d="M636.2 259.01L639.8 262.61M636.2 262.61L639.8 259.01M638 259.01L638 262.61" stroke="#2a2a2a" stroke-width="0.8" fill="none"/><path d="M669.5 266.47L673.1 270.07M669.5 270.07L673.1 266.47M671.3 266.47L671.3 270.07" stroke="#2a2a2a" stroke-width="0.8" fill="none"/><circle cx="504.8" cy="205.22" r="1.6" fill="#000" stroke="none"/><circle cx="538.1" cy="245.57" r="1.6" fill="#000" stroke="none"/><circle cx="571.4" cy="255.18" r="1.6" fill="#000" stroke="none"/><circle cx="604.7" cy="260.23" r="1.6" fill="#000" stroke="none"/><circle cx="638" cy="262.06" r="1.6" fill="#000" stroke="none"/><circle cx="671.3" cy="270.18" r="1.6" fill="#000" stroke="none"/><rect x="503.1" y="200.62" width="3.4" height="3.4" fill="#000" stroke="none"/><rect x="536.4" y="237.65" width="3.4" height="3.4" fill="#000" stroke="none"/><rect x="569.7" y="244.61" width="3.4" height="3.4" fill="#000" stroke="none"/><rect x="603" y="252.15" width="3.4" height="3.4" fill="#000" stroke="none"/><rect x="636.3" y="253.98" width="3.4" height="3.4" fill="#000" stroke="none"/><rect x="669.6" y="260.36" width="3.4" height="3.4" fill="#000" stroke="none"/><path d="M504.8 199.27L507.1 201.57L504.8 203.87L502.5 201.57Z" fill="#000" stroke="none"/><path d="M538.1 233.74L540.4 236.04L538.1 238.34L535.8 236.04Z" fill="#000" stroke="none"/><path d="M571.4 240.29L573.7 242.59L571.4 244.89L569.1 242.59Z" fill="#000" stroke="none"/><path d="M604.7 246.67L607 248.97L604.7 251.27L602.4 248.97Z" fill="#000" stroke="none"/><path d="M638 250.15L640.3 252.45L638 254.75L635.7 252.45Z" fill="#000" stroke="none"/><path d="M671.3 258.51L673.6 260.81L671.3 263.11L669 260.81Z" fill="#000" stroke="none"/></g>
<text transform="translate(13.6 192.8) rotate(-90)" font-size="9.6" stroke-width="0.4" textLength="90.2" lengthAdjust="spacing">Relative cell survival</text>
<text x="352.1" y="314.6" font-size="9.6" stroke-width="0.45" textLength="17.8" lengthAdjust="spacingAndGlyphs">MOI</text>
<path d="M611 167.1L626.8 167.1" stroke="#111" stroke-width="1.15"/>
<path d="M618.9 164.8L621.2 167.1L618.9 169.4L616.6 167.1Z" fill="#000" stroke="none"/>
<text x="672.2" y="171" font-size="9.7" text-anchor="end" letter-spacing="-0.2" word-spacing="-0.5">0 µmol/L</text>
<path d="M611 183L626.8 183" stroke="#111" stroke-width="1.15"/>
<rect x="617.2" y="181.3" width="3.4" height="3.4" fill="#000" stroke="none"/>
<text x="672.2" y="186.45" font-size="9.7" text-anchor="end" letter-spacing="-0.2" word-spacing="-0.5">10 µmol/L</text>
<path d="M611 198.9L626.8 198.9" stroke="#b0b0b0" stroke-width="0.9500000000000001"/>
<path d="M618.9 196.7L621.1 200.66L616.7 200.66Z" fill="#a4a4a4" stroke="none"/>
<text x="672.2" y="201.9" font-size="9.7" text-anchor="end" letter-spacing="-0.2" word-spacing="-0.5">20 µmol/L</text>
<path d="M611 214.8L626.8 214.8" stroke="#333" stroke-width="1.0"/>
<path d="M617.1 213L620.7 216.6M617.1 216.6L620.7 213M618.9 213L618.9 216.6" stroke="#2a2a2a" stroke-width="0.8" fill="none"/>
<text x="672.2" y="217.35" font-size="9.7" text-anchor="end" letter-spacing="-0.2" word-spacing="-0.5">40 µmol/L</text>
<path d="M611 230.7L626.8 230.7" stroke="#111" stroke-width="1.15"/>
<circle cx="618.9" cy="230.7" r="1.6" fill="#000" stroke="none"/>
<text x="672.2" y="232.8" font-size="9.7" text-anchor="end" letter-spacing="-0.2" word-spacing="-0.5">50 µmol/L</text>
</svg>
</body></html>
